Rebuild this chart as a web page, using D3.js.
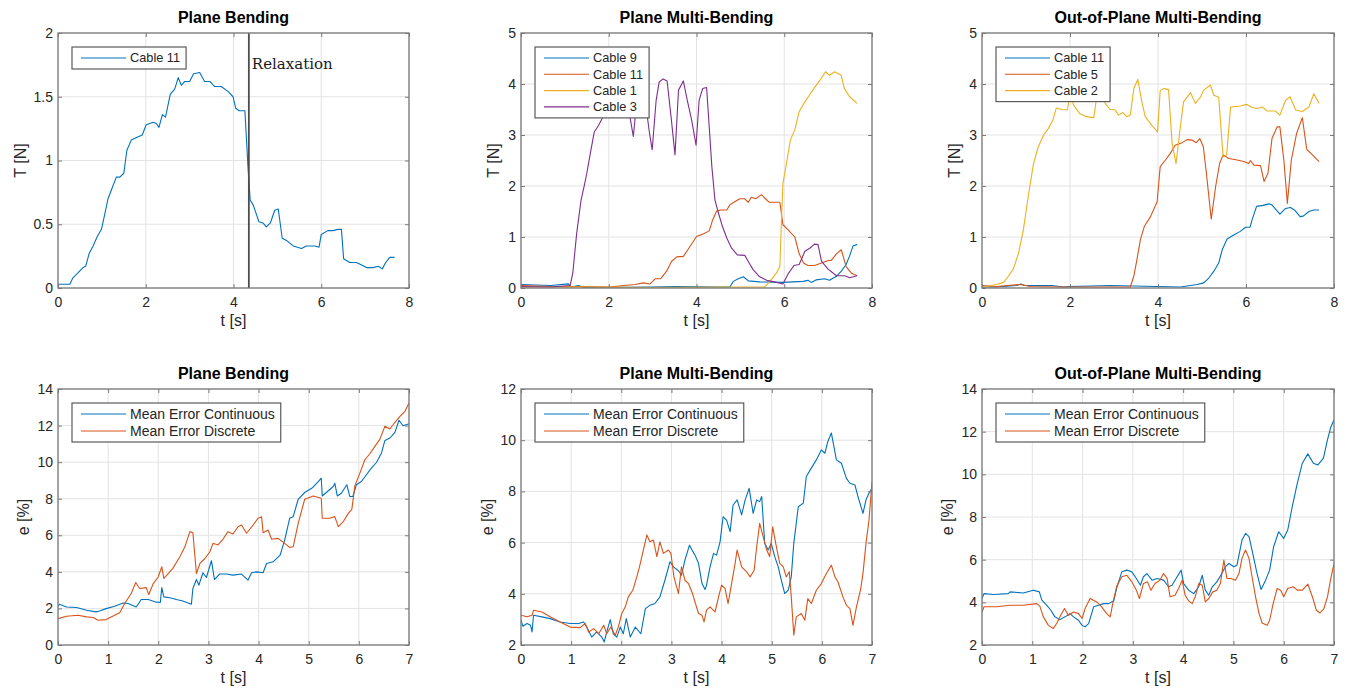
<!DOCTYPE html>
<html>
<head>
<meta charset="utf-8">
<script src="https://cdn.jsdelivr.net/npm/d3@7"></script>
<style>
  body { margin: 0; background: #fff; }
  svg { display: block; font-family: "Liberation Sans", Arial, sans-serif; }
</style>
</head>
<body>
<svg id="chart" width="1347" height="690"></svg>
<script>
// Cable tension [N] over time [s] for the three bending tests (top row)
var pbCable11 = [[0,0.03],[0.27,0.03],[0.34,0.08],[0.46,0.12],[0.57,0.16],[0.63,0.17],[0.71,0.27],[0.8,0.33],[0.89,0.4],[0.99,0.46],[1.06,0.57],[1.14,0.7],[1.24,0.79],[1.33,0.87],[1.41,0.87],[1.5,0.9],[1.57,1.08],[1.67,1.16],[1.79,1.18],[1.92,1.2],[2.01,1.28],[2.17,1.3],[2.24,1.29],[2.3,1.26],[2.38,1.36],[2.45,1.34],[2.56,1.52],[2.66,1.56],[2.74,1.65],[2.81,1.59],[2.89,1.62],[3,1.62],[3.09,1.68],[3.23,1.69],[3.34,1.62],[3.46,1.62],[3.57,1.58],[3.72,1.58],[3.88,1.54],[3.99,1.5],[4.05,1.41],[4.13,1.39],[4.26,1.39],[4.33,0.95],[4.38,0.69],[4.45,0.65],[4.58,0.52],[4.67,0.51],[4.75,0.48],[4.84,0.51],[4.94,0.61],[5.02,0.62],[5.11,0.39],[5.22,0.37],[5.36,0.33],[5.55,0.31],[5.66,0.33],[5.85,0.33],[5.95,0.32],[6,0.42],[6.15,0.45],[6.27,0.45],[6.38,0.46],[6.46,0.46],[6.51,0.23],[6.65,0.2],[6.8,0.2],[6.92,0.18],[7.03,0.16],[7.18,0.16],[7.3,0.17],[7.39,0.15],[7.47,0.2],[7.56,0.24],[7.67,0.24]];
var relaxationTime = 4.35;

var pmbCable9 = [[0,0.07],[0.67,0.05],[1.08,0.08],[1.14,0.02],[1.31,0.05],[1.43,0.01],[2.94,0.02],[3.55,0.03],[4.76,0.02],[4.84,0.13],[4.95,0.18],[5.07,0.22],[5.18,0.14],[5.44,0.12],[5.97,0.11],[6.43,0.13],[6.54,0.15],[6.62,0.11],[6.73,0.16],[6.92,0.18],[7.03,0.15],[7.19,0.23],[7.3,0.33],[7.41,0.46],[7.49,0.63],[7.57,0.83],[7.66,0.85]];
var pmbCable11 = [[0,0.05],[0.67,0.03],[1.43,0.03],[2.03,0.02],[2.34,0.05],[2.6,0.07],[2.79,0.1],[2.94,0.08],[3.06,0.18],[3.18,0.18],[3.32,0.33],[3.43,0.52],[3.55,0.61],[3.7,0.62],[3.81,0.76],[4,1.01],[4.15,1.06],[4.29,1.12],[4.37,1.34],[4.46,1.51],[4.55,1.53],[4.69,1.53],[4.76,1.63],[4.87,1.69],[4.99,1.75],[5.1,1.75],[5.18,1.68],[5.25,1.78],[5.35,1.75],[5.48,1.83],[5.56,1.76],[5.66,1.68],[5.9,1.68],[5.97,1.24],[6.09,1.14],[6.24,1],[6.34,0.67],[6.44,0.49],[6.54,0.44],[6.69,0.44],[6.85,0.49],[7,0.54],[7.07,0.54],[7.19,0.67],[7.3,0.75],[7.41,0.42],[7.53,0.29],[7.66,0.24]];
var pmbCable1 = [[0,0.02],[1.5,0.02],[3,0.01],[4.5,0.02],[5.22,0.02],[5.56,0.02],[5.67,0.13],[5.82,0.29],[5.9,0.42],[5.94,1.4],[5.97,2.05],[6.05,2.44],[6.14,2.9],[6.24,3.1],[6.34,3.46],[6.47,3.65],[6.58,3.79],[6.69,3.93],[6.81,4.07],[6.94,4.24],[7.03,4.17],[7.15,4.24],[7.3,4.17],[7.37,3.91],[7.49,3.75],[7.66,3.62]];
var pmbCable3 = [[0,0.03],[0.67,0.02],[1.12,0.05],[1.18,0.29],[1.27,1.08],[1.37,1.73],[1.43,1.96],[1.5,2.25],[1.58,2.64],[1.67,3.06],[1.77,3.19],[1.87,3.36],[2,3.6],[2.2,3.85],[2.4,3.7],[2.49,3.32],[2.56,2.97],[2.6,3.32],[2.7,3.7],[2.85,3.55],[2.93,3.03],[2.99,2.71],[3.08,3.68],[3.15,4.04],[3.24,4.1],[3.33,4.06],[3.42,3.36],[3.51,2.61],[3.59,3.88],[3.7,4.06],[3.79,3.68],[3.89,3.29],[3.99,2.8],[4.06,3.68],[4.14,3.91],[4.23,3.93],[4.29,3.16],[4.35,2.38],[4.42,1.73],[4.5,1.47],[4.59,1.21],[4.69,0.98],[4.8,0.78],[4.93,0.65],[5.1,0.64],[5.2,0.49],[5.29,0.36],[5.44,0.22],[5.6,0.15],[5.78,0.12],[5.97,0.08],[6.09,0.28],[6.22,0.44],[6.34,0.46],[6.47,0.72],[6.58,0.78],[6.69,0.86],[6.77,0.85],[6.85,0.52],[7,0.37],[7.19,0.24],[7.38,0.24],[7.49,0.2],[7.66,0.24]];

var opmbCable11 = [[0,0.02],[0.33,0.02],[0.79,0.05],[0.88,0.08],[0.98,0.05],[1.59,0.05],[1.85,0.02],[2,0.03],[2.91,0.05],[4.51,0.02],[4.74,0.05],[4.89,0.07],[5.04,0.1],[5.16,0.2],[5.27,0.33],[5.38,0.49],[5.46,0.75],[5.57,0.96],[5.72,1.04],[5.87,1.11],[5.99,1.19],[6.09,1.19],[6.14,1.34],[6.24,1.6],[6.39,1.62],[6.52,1.65],[6.59,1.63],[6.77,1.45],[6.9,1.56],[7.01,1.58],[7.1,1.53],[7.23,1.4],[7.3,1.41],[7.43,1.5],[7.54,1.53],[7.66,1.53]];
var opmbCable5 = [[0,0.05],[0.33,0.03],[0.87,0.07],[1.1,0.03],[1.85,0.02],[3.37,0.02],[3.45,0.23],[3.52,0.55],[3.6,0.95],[3.69,1.21],[3.83,1.4],[3.98,1.69],[4.05,2.38],[4.17,2.51],[4.28,2.64],[4.39,2.8],[4.55,2.85],[4.66,2.91],[4.77,2.9],[4.87,2.85],[4.95,2.93],[5.03,2.77],[5.1,2.25],[5.21,1.35],[5.31,1.99],[5.4,2.44],[5.48,2.61],[5.61,2.54],[5.8,2.51],[5.95,2.48],[6.06,2.44],[6.1,2.5],[6.18,2.41],[6.33,2.4],[6.41,2.09],[6.5,2.25],[6.59,2.93],[6.71,3.16],[6.77,3.16],[6.86,2.51],[6.94,1.66],[7.03,2.51],[7.15,3.03],[7.28,3.34],[7.38,2.72],[7.51,2.61],[7.66,2.48]];
var opmbCable2 = [[0,0.02],[0.33,0.07],[0.49,0.11],[0.6,0.23],[0.71,0.37],[0.83,0.68],[0.94,1.14],[1.05,1.79],[1.17,2.44],[1.28,2.77],[1.4,3],[1.51,3.13],[1.61,3.29],[1.69,3.53],[1.81,3.5],[1.94,3.49],[2,3.8],[2.08,3.59],[2.22,3.42],[2.37,3.36],[2.54,3.34],[2.6,3.7],[2.7,3.85],[2.8,3.62],[2.91,3.5],[3.03,3.49],[3.1,3.39],[3.2,3.44],[3.29,3.36],[3.37,3.39],[3.45,3.91],[3.54,4.09],[3.64,3.62],[3.71,3.36],[3.86,3.19],[3.99,3.06],[4.05,3.87],[4.13,3.91],[4.24,3.89],[4.32,2.84],[4.41,2.44],[4.49,3.03],[4.58,3.65],[4.74,3.83],[4.85,3.62],[4.96,3.74],[5.04,3.88],[5.19,3.98],[5.27,3.78],[5.38,3.74],[5.48,2.57],[5.56,2.61],[5.65,3.55],[5.87,3.57],[6.02,3.6],[6.14,3.54],[6.25,3.52],[6.37,3.55],[6.48,3.47],[6.67,3.47],[6.77,3.39],[6.9,3.68],[7,3.75],[7.13,3.49],[7.28,3.46],[7.43,3.55],[7.54,3.81],[7.66,3.62]];

// Mean error [%] over time [s] (bottom row)
var pbErrCont = [[0,2.12],[0.03,2.23],[0.17,2.08],[0.37,2.05],[0.57,1.9],[0.76,1.81],[0.83,1.86],[0.96,1.99],[1.13,2.12],[1.3,2.3],[1.4,2.27],[1.56,2.08],[1.66,2.49],[1.8,2.49],[1.93,2.36],[2.04,2.32],[2.07,3.14],[2.11,2.63],[2.23,2.58],[2.36,2.49],[2.49,2.41],[2.66,2.23],[2.69,3.09],[2.76,3.58],[2.81,3.27],[2.89,3.95],[2.96,3.69],[3.06,4.61],[3.12,3.58],[3.22,3.88],[3.36,3.88],[3.49,3.82],[3.66,3.88],[3.79,3.55],[3.86,3.95],[3.96,4],[4.09,3.95],[4.16,4.46],[4.29,4.55],[4.43,4.92],[4.52,5.74],[4.62,6.93],[4.69,7.02],[4.79,7.97],[4.92,8.34],[5.06,8.57],[5.19,8.94],[5.25,9.12],[5.27,8.15],[5.35,8.34],[5.49,8.67],[5.52,8.85],[5.57,8.15],[5.65,8.3],[5.76,8.76],[5.82,8.12],[5.88,8.12],[5.95,8.76],[6.05,8.94],[6.15,9.31],[6.25,9.67],[6.35,9.98],[6.45,10.49],[6.52,11.19],[6.62,11.32],[6.72,11.63],[6.8,12.29],[6.88,11.99],[7,12.1]];
var pbErrDisc = [[0,1.44],[0.17,1.57],[0.4,1.63],[0.57,1.54],[0.7,1.5],[0.8,1.35],[0.96,1.39],[1.13,1.63],[1.23,1.76],[1.33,2.27],[1.46,2.82],[1.55,3.42],[1.63,3.09],[1.76,3.14],[1.81,2.76],[1.9,3.36],[2,3.73],[2.07,4.28],[2.11,3.64],[2.19,3.88],[2.29,4.19],[2.43,4.83],[2.53,5.37],[2.63,6.2],[2.69,6.14],[2.76,3.91],[2.83,4.46],[2.93,4.73],[3.03,5.1],[3.09,5.56],[3.19,5.47],[3.29,5.78],[3.39,6.2],[3.49,6.07],[3.59,6.47],[3.66,6.56],[3.76,6.11],[3.89,6.56],[3.99,6.93],[4.06,7.02],[4.09,6.14],[4.19,6.29],[4.26,5.78],[4.39,5.83],[4.52,5.56],[4.62,5.34],[4.69,5.37],[4.79,6.65],[4.92,7.97],[5.09,8.15],[5.25,8.03],[5.27,6.93],[5.42,6.93],[5.52,7.02],[5.59,6.47],[5.69,6.75],[5.79,7.2],[5.86,7.42],[5.92,8.7],[6.02,9.4],[6.12,10.13],[6.22,10.46],[6.32,10.86],[6.42,11.26],[6.52,11.96],[6.62,11.81],[6.72,12.18],[6.82,12.5],[6.92,12.78],[7,13.24]];

var pmbErrCont = [[0,2.97],[0.04,2.73],[0.12,2.84],[0.19,2.77],[0.22,2.51],[0.25,3.16],[0.42,3.1],[0.58,3.03],[0.78,2.9],[0.98,2.84],[1.15,2.84],[1.25,2.9],[1.31,2.7],[1.41,2.31],[1.51,2.51],[1.61,2.31],[1.66,2.12],[1.71,2.51],[1.78,2.99],[1.84,2.44],[1.91,2.31],[1.98,2.7],[2.04,2.44],[2.1,3.03],[2.18,2.31],[2.28,2.7],[2.39,2.44],[2.48,3.42],[2.57,3.55],[2.67,3.62],[2.77,3.88],[2.87,4.53],[2.97,5.25],[3.04,5.05],[3.14,4.9],[3.2,4.73],[3.27,5.32],[3.36,5.9],[3.41,5.71],[3.47,5.51],[3.54,5.19],[3.61,4.4],[3.67,4.17],[3.7,4.34],[3.77,5.05],[3.84,5.58],[3.9,5.51],[3.97,6.03],[4.03,7.01],[4.1,6.88],[4.17,6.43],[4.23,7.47],[4.31,7.67],[4.4,7.08],[4.47,7.67],[4.55,8.12],[4.63,7.14],[4.7,7.67],[4.76,7.6],[4.8,7.8],[4.86,5.97],[4.93,5.71],[4.99,5.97],[5.06,5.45],[5.13,5.05],[5.2,4.47],[5.26,4.01],[5.33,4.14],[5.39,4.66],[5.44,5.97],[5.53,7.4],[5.63,7.54],[5.69,8.58],[5.79,8.91],[5.89,9.23],[5.99,9.62],[6.06,9.49],[6.12,9.95],[6.19,10.28],[6.29,9.23],[6.39,9.1],[6.49,8.51],[6.56,8.32],[6.66,8.25],[6.72,7.8],[6.82,7.14],[6.88,7.67],[6.94,7.93],[7,8.12]];
var pmbErrDisc = [[0,3.16],[0.12,3.1],[0.22,3.16],[0.25,3.36],[0.42,3.29],[0.58,3.1],[0.78,2.9],[0.98,2.7],[1.18,2.68],[1.28,2.84],[1.35,2.51],[1.45,2.64],[1.55,2.44],[1.65,2.77],[1.71,2.44],[1.79,2.7],[1.88,2.38],[1.94,2.7],[2.01,3.23],[2.08,3.49],[2.14,3.88],[2.23,4.14],[2.31,4.66],[2.38,5.19],[2.44,5.71],[2.51,6.3],[2.57,6.03],[2.64,6.1],[2.71,5.45],[2.77,6.03],[2.84,5.58],[2.94,5.71],[2.99,5.58],[3.05,4.66],[3.14,4.01],[3.2,5.05],[3.27,4.53],[3.34,4.4],[3.42,4.01],[3.54,3.23],[3.61,3.16],[3.65,2.9],[3.7,3.36],[3.77,3.49],[3.87,3.29],[3.94,3.88],[4,4.34],[4.07,4.21],[4.13,3.62],[4.2,4.4],[4.27,5.19],[4.31,5.71],[4.4,5.05],[4.5,4.86],[4.57,4.66],[4.65,4.92],[4.7,5.84],[4.76,6.75],[4.82,6.3],[4.9,5.71],[4.96,5.45],[5.02,6.62],[5.08,5.97],[5.16,5.19],[5.23,5.05],[5.29,4.66],[5.35,4.86],[5.39,3.88],[5.44,2.38],[5.49,3.1],[5.59,3.23],[5.66,2.97],[5.72,3.81],[5.79,3.62],[5.89,4.14],[5.99,4.4],[6.09,4.79],[6.19,5.12],[6.26,4.66],[6.32,4.47],[6.42,3.88],[6.49,3.55],[6.56,3.42],[6.62,2.77],[6.69,3.49],[6.77,4.14],[6.82,4.79],[6.88,5.97],[6.94,6.88],[7,8.38]];

var opmbErrCont = [[0,4.18],[0.04,4.41],[0.23,4.37],[0.52,4.41],[0.56,4.49],[0.82,4.44],[1.02,4.57],[1.14,4.49],[1.19,4.1],[1.29,3.86],[1.37,3.63],[1.45,3.32],[1.55,3.19],[1.65,3.32],[1.75,3.47],[1.82,3.32],[1.92,3.16],[1.99,2.92],[2.05,2.85],[2.12,3],[2.22,3.79],[2.32,3.86],[2.42,3.94],[2.52,3.94],[2.62,4.07],[2.68,4.69],[2.78,5.43],[2.88,5.51],[2.98,5.43],[3.07,5.12],[3.15,4.8],[3.21,5.2],[3.28,5.35],[3.38,5.04],[3.48,5.12],[3.61,5.04],[3.71,4.73],[3.78,4.8],[3.88,5.2],[3.96,5.51],[4.01,4.88],[4.11,4.57],[4.21,4.41],[4.31,4.73],[4.38,5.27],[4.44,4.57],[4.51,4.33],[4.58,4.73],[4.67,4.96],[4.77,5.35],[4.84,5.67],[4.91,5.82],[5.01,5.67],[5.07,5.74],[5.17,6.92],[5.24,7.23],[5.31,7.08],[5.37,6.45],[5.47,5.35],[5.55,4.6],[5.64,5.04],[5.72,5.51],[5.8,6.61],[5.9,7.31],[6,7],[6.08,7.39],[6.17,8.49],[6.27,9.58],[6.37,10.52],[6.48,10.96],[6.59,10.52],[6.68,10.44],[6.79,10.76],[6.87,11.62],[6.93,12.17],[7,12.56]];
var opmbErrDisc = [[0,3.55],[0.04,3.79],[0.29,3.79],[0.56,3.86],[0.82,3.86],[1.09,3.94],[1.15,3.82],[1.22,3.32],[1.32,2.92],[1.42,2.77],[1.49,3.03],[1.55,3.32],[1.64,3.71],[1.72,3.39],[1.82,3.55],[1.92,3.47],[1.99,3.24],[2.05,3.71],[2.15,4.18],[2.28,4.02],[2.38,3.79],[2.48,3.47],[2.55,3.32],[2.6,3.94],[2.68,4.76],[2.78,5.2],[2.88,5.27],[2.98,4.96],[3.07,4.57],[3.13,4.18],[3.21,4.88],[3.29,4.96],[3.36,4.57],[3.44,4.88],[3.54,5.04],[3.61,5.35],[3.68,5.12],[3.74,4.26],[3.84,4.33],[3.91,4.65],[3.98,5.04],[4.04,4.33],[4.11,4.07],[4.18,3.94],[4.24,4.26],[4.31,4.88],[4.38,4.8],[4.44,4.02],[4.51,4.18],[4.59,4.49],[4.67,4.57],[4.74,4.88],[4.81,5.98],[4.87,5.12],[4.95,5.12],[5.04,5.04],[5.11,5.35],[5.17,6.06],[5.24,6.45],[5.31,6.06],[5.37,5.2],[5.44,4.26],[5.51,3.47],[5.57,3.03],[5.67,2.92],[5.72,3.16],[5.79,3.94],[5.87,4.65],[5.94,4.57],[6,4.26],[6.08,4.65],[6.19,4.73],[6.27,4.57],[6.37,4.57],[6.48,4.85],[6.57,4.26],[6.65,3.63],[6.72,3.5],[6.8,3.71],[6.87,4.26],[6.93,5.04],[7,5.82]];

var tensionTicksX = [0, 2, 4, 6, 8];
var errorTicksX = [0, 1, 2, 3, 4, 5, 6, 7];

var COLORS = ['#0072BD', '#D95319', '#EDB120', '#7E2F8E'],
    BOX_COLOR = '#7a7a7a',
    GRID_COLOR = '#e3e3e3',
    TEXT_COLOR = '#262626';

var svg = d3.select('#chart');

var panels = [
    {left: 58, right: 409, top: 33, bottom: 288, title: 'Plane Bending', xMax: 8, xTicks: tensionTicksX,
     yDomain: [0, 2], yTicks: [0, 0.5, 1, 1.5, 2], yLabel: 'T [N]', yLabelX: 20, legendFont: 12.75,
     series: [{name: 'Cable 11', data: pbCable11, color: COLORS[0]}], relax: relaxationTime},
    {left: 521, right: 872, top: 33, bottom: 288, title: 'Plane Multi-Bending', xMax: 8, xTicks: tensionTicksX,
     yDomain: [0, 5], yTicks: [0, 1, 2, 3, 4, 5], yLabel: 'T [N]', yLabelX: 493, legendFont: 12.75,
     series: [{name: 'Cable 9', data: pmbCable9, color: COLORS[0]},
              {name: 'Cable 11', data: pmbCable11, color: COLORS[1]},
              {name: 'Cable 1', data: pmbCable1, color: COLORS[2]},
              {name: 'Cable 3', data: pmbCable3, color: COLORS[3]}]},
    {left: 982, right: 1334, top: 33, bottom: 288, title: 'Out-of-Plane Multi-Bending', xMax: 8, xTicks: tensionTicksX,
     yDomain: [0, 5], yTicks: [0, 1, 2, 3, 4, 5], yLabel: 'T [N]', yLabelX: 954, legendFont: 12.75,
     series: [{name: 'Cable 11', data: opmbCable11, color: COLORS[0]},
              {name: 'Cable 5', data: opmbCable5, color: COLORS[1]},
              {name: 'Cable 2', data: opmbCable2, color: COLORS[2]}]},
    {left: 58, right: 409, top: 389, bottom: 645, title: 'Plane Bending', xMax: 7, xTicks: errorTicksX,
     yDomain: [0, 14], yTicks: [0, 2, 4, 6, 8, 10, 12, 14], yLabel: 'e [%]', yLabelX: 23, legendFont: 14,
     series: [{name: 'Mean Error Continuous', data: pbErrCont, color: COLORS[0]},
              {name: 'Mean Error Discrete', data: pbErrDisc, color: COLORS[1]}]},
    {left: 521, right: 872, top: 389, bottom: 645, title: 'Plane Multi-Bending', xMax: 7, xTicks: errorTicksX,
     yDomain: [2, 12], yTicks: [2, 4, 6, 8, 10, 12], yLabel: 'e [%]', yLabelX: 487, legendFont: 14,
     series: [{name: 'Mean Error Continuous', data: pmbErrCont, color: COLORS[0]},
              {name: 'Mean Error Discrete', data: pmbErrDisc, color: COLORS[1]}]},
    {left: 982, right: 1334, top: 389, bottom: 645, title: 'Out-of-Plane Multi-Bending', xMax: 7, xTicks: errorTicksX,
     yDomain: [2, 14], yTicks: [2, 4, 6, 8, 10, 12, 14], yLabel: 'e [%]', yLabelX: 947, legendFont: 14,
     series: [{name: 'Mean Error Continuous', data: opmbErrCont, color: COLORS[0]},
              {name: 'Mean Error Discrete', data: opmbErrDisc, color: COLORS[1]}]}
];

function styleAxis(g, showText) {
    g.select('.domain').remove();
    g.selectAll('.tick line').attr('stroke', BOX_COLOR).attr('stroke-width', 1);
    if (showText) {
        g.selectAll('.tick text').attr('fill', TEXT_COLOR).style('font-size', '14px');
    } else {
        g.selectAll('.tick text').remove();
    }
}

panels.forEach(function(p, idx) {
    var x = d3.scaleLinear().domain([0, p.xMax]).range([p.left, p.right]),
        y = d3.scaleLinear().domain(p.yDomain).range([p.bottom, p.top]),
        g = svg.append('g'),
        clipId = 'clip' + idx;

    g.append('clipPath').attr('id', clipId)
        .append('rect')
        .attr('x', p.left).attr('y', p.top)
        .attr('width', p.right - p.left).attr('height', p.bottom - p.top);

    // grid
    g.append('g').selectAll('line.gx').data(p.xTicks).enter().append('line')
        .attr('x1', d => x(d)).attr('x2', d => x(d))
        .attr('y1', p.top).attr('y2', p.bottom)
        .attr('stroke', GRID_COLOR).attr('stroke-width', 1);
    g.append('g').selectAll('line.gy').data(p.yTicks).enter().append('line')
        .attr('x1', p.left).attr('x2', p.right)
        .attr('y1', d => y(d)).attr('y2', d => y(d))
        .attr('stroke', GRID_COLOR).attr('stroke-width', 1);

    // data lines
    var line = d3.line().x(d => x(d[0])).y(d => y(d[1]));
    var lines = g.append('g').attr('clip-path', 'url(#' + clipId + ')');
    p.series.forEach(function(s) {
        lines.append('path')
            .datum(s.data)
            .attr('d', line)
            .attr('fill', 'none')
            .attr('stroke', s.color)
            .attr('stroke-width', 1.1)
            .attr('stroke-linejoin', 'round');
    });

    if (p.relax !== undefined) {
        g.append('line')
            .attr('x1', x(p.relax)).attr('x2', x(p.relax))
            .attr('y1', p.top).attr('y2', p.bottom)
            .attr('stroke', '#4d4d4d').attr('stroke-width', 1.8);
        g.append('text')
            .attr('x', x(p.relax) + 3).attr('y', p.top + 36)
            .style('font-family', '"DejaVu Serif", "Liberation Serif", serif')
            .style('font-size', '15px')
            .attr('fill', '#1a1a1a')
            .text('Relaxation');
    }

    // axes, ticks inside on all four sides
    g.append('g').attr('transform', 'translate(0,' + p.bottom + ')')
        .call(d3.axisBottom(x).tickValues(p.xTicks).tickSize(-4).tickPadding(9).tickFormat(d3.format('d')))
        .call(a => styleAxis(a, true));
    g.append('g').attr('transform', 'translate(0,' + p.top + ')')
        .call(d3.axisTop(x).tickValues(p.xTicks).tickSize(-4))
        .call(a => styleAxis(a, false));
    g.append('g').attr('transform', 'translate(' + p.left + ',0)')
        .call(d3.axisLeft(y).tickValues(p.yTicks).tickSize(-4).tickPadding(5).tickFormat(d3.format('')))
        .call(a => styleAxis(a, true));
    g.append('g').attr('transform', 'translate(' + p.right + ',0)')
        .call(d3.axisRight(y).tickValues(p.yTicks).tickSize(-4))
        .call(a => styleAxis(a, false));

    g.append('rect')
        .attr('x', p.left).attr('y', p.top)
        .attr('width', p.right - p.left).attr('height', p.bottom - p.top)
        .attr('fill', 'none').attr('stroke', BOX_COLOR).attr('stroke-width', 1.3);

    // title and labels
    g.append('text')
        .attr('x', (p.left + p.right) / 2).attr('y', p.top - 10)
        .attr('text-anchor', 'middle')
        .style('font-size', '16px').style('font-weight', 'bold')
        .attr('fill', '#000')
        .text(p.title);
    g.append('text')
        .attr('x', (p.left + p.right) / 2).attr('y', p.bottom + 38)
        .attr('text-anchor', 'middle')
        .style('font-size', '16px')
        .attr('fill', TEXT_COLOR)
        .text('t [s]');
    g.append('text')
        .attr('transform', 'translate(' + p.yLabelX + ',' + (p.top + p.bottom) / 2 + ') rotate(-90)')
        .attr('text-anchor', 'middle')
        .attr('dy', '0.35em')
        .style('font-size', '16px')
        .attr('fill', TEXT_COLOR)
        .text(p.yLabel);

    // legend
    var lg = g.append('g').attr('transform', 'translate(' + (p.left + 14) + ',' + (p.top + 14) + ')'),
        rowH = p.series.length === 2 ? 17 : 16.3,
        box = lg.append('rect').attr('fill', '#fff').attr('stroke', '#5a5a5a').attr('stroke-width', 1.2),
        maxW = 0;
    p.series.forEach(function(s, i) {
        var cy = 11 + i * rowH;
        lg.append('line')
            .attr('x1', 9).attr('x2', 54).attr('y1', cy).attr('y2', cy)
            .attr('stroke', s.color).attr('stroke-width', 1.1);
        var t = lg.append('text')
            .attr('x', 58).attr('y', cy).attr('dy', '0.35em')
            .style('font-size', p.legendFont + 'px')
            .attr('fill', TEXT_COLOR)
            .text(s.name);
        maxW = Math.max(maxW, t.node().getComputedTextLength());
    });
    box.attr('x', 0).attr('y', 0)
        .attr('width', 58 + maxW + 6)
        .attr('height', 22 + (p.series.length - 1) * rowH);
});
</script>
</body>
</html>
